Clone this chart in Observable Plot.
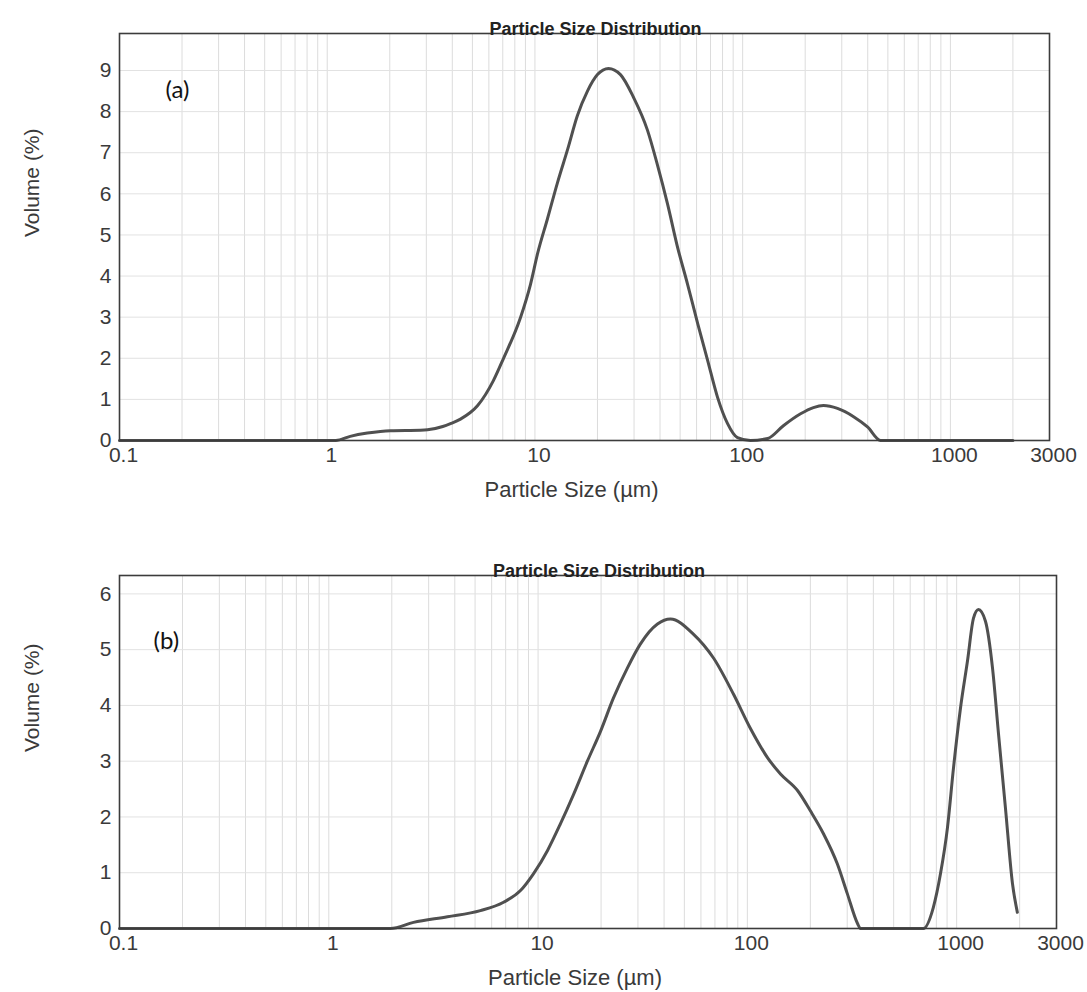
<!DOCTYPE html>
<html>
<head>
<meta charset="utf-8">
<script src="https://cdn.jsdelivr.net/npm/d3@7"></script>
<script src="https://cdn.jsdelivr.net/npm/@observablehq/plot@0.6"></script>
<style>
  html, body { margin: 0; padding: 0; background: #fff; }
  #chart svg { display: block; }
</style>
</head>
<body>
<div id="chart"></div>
<script>
// ---- Data ----
const chartTitle = "Particle Size Distribution";
const xLabel = "Particle Size (µm)";
const yLabel = "Volume (%)";
const xTicks = [0.1, 1, 10, 100, 1000, 3000];
const xGrid = [0.2,0.3,0.4,0.5,0.6,0.7,0.8,0.9,1,2,3,4,5,6,7,8,9,10,20,30,40,50,60,70,80,90,100,200,300,400,500,600,700,800,900,1000,2000];
const yTicksA = [0,1,2,3,4,5,6,7,8,9];
const yTicksB = [0,1,2,3,4,5,6];

// Panel (a)
const sizeA = [0.1, 1.1, 1.29, 1.56, 2.02, 2.81, 3.04, 3.6, 3.92, 4.38, 5.3, 6.3, 7.06, 8.53, 9.52, 10.3, 11.5, 12.8, 14.4, 16.0, 17.9, 20.0, 22.6, 25.8, 29.8, 34.8, 38.9, 43.5, 48.6, 54.3, 60.7, 67.8, 75.7, 84.6, 94.4, 109, 132, 157, 190, 219, 245, 286, 342, 399, 461, 2000];
const volA  = [0, 0, 0.1, 0.18, 0.24, 0.25, 0.26, 0.34, 0.41, 0.52, 0.85, 1.45, 2.0, 3.0, 3.8, 4.55, 5.4, 6.25, 7.1, 7.9, 8.5, 8.9, 9.05, 8.9, 8.35, 7.55, 6.7, 5.75, 4.7, 3.8, 2.85, 1.95, 1.05, 0.41, 0.07, 0.0, 0.05, 0.36, 0.65, 0.8, 0.85, 0.78, 0.58, 0.33, 0, 0];

// Panel (b)
const sizeB = [0.1, 1.97, 2.54, 3.69, 5.3, 6.84, 8.24, 9.5, 11.1, 12.8, 14.8, 17.2, 19.9, 22.9, 26.7, 30.8, 37.2, 42.9, 55.2, 68.9, 85.9, 103, 125, 144, 174, 200, 231, 269, 300, 336, 347, 694, 774, 837, 904, 966, 1043, 1127, 1203, 1271, 1373, 1484, 1585, 1711, 1849, 1950];
const volB  = [0, 0, 0.11, 0.21, 0.32, 0.47, 0.68, 0.98, 1.4, 1.88, 2.41, 3.0, 3.54, 4.13, 4.67, 5.1, 5.46, 5.55, 5.28, 4.85, 4.2, 3.6, 3.06, 2.77, 2.47, 2.11, 1.7, 1.16, 0.63, 0.09, 0, 0, 0.38, 0.98, 1.81, 2.88, 3.95, 4.8, 5.56, 5.72, 5.51, 4.67, 3.49, 2.16, 0.8, 0.29];

const font = "'Liberation Sans', Arial, sans-serif";

function panel({sizes, vols, yTicks, yMax, tag, height, mt, mb, mr, tagDx, tagDy}) {
  const data = sizes.map((s, i) => ({size: s, vol: vols[i]}));
  return Plot.plot({
    width: 1087,
    height,
    marginLeft: 119,
    marginRight: mr,
    marginTop: mt,
    marginBottom: mb,
    style: {fontFamily: font, color: "#3a3a3a", background: "#fff"},
    x: {type: "log", domain: [0.1, 3000], label: null, axis: null},
    y: {domain: [0, yMax], label: null},
    marks: [
      Plot.ruleX(xGrid, {stroke: "#dcdcdc", strokeWidth: 1}),
      Plot.ruleY(yTicks.filter(d => d > 0), {stroke: "#e2e2e2", strokeWidth: 1}),
      Plot.line(data, {x: "size", y: "vol", stroke: "#505050", strokeWidth: 3, curve: "monotone-x"}),
      Plot.frame({stroke: "#3c3c3c", strokeWidth: 1.6}),
      Plot.text(xTicks, {x: d => d, frameAnchor: "bottom", lineAnchor: "top", text: d => String(d), dy: 7, dx: 4, fontSize: 21, fill: "#3a3a3a"}),
      Plot.axisY(yTicks, {tickSize: 0, tickPadding: 8, fontSize: 21, tickFormat: d => String(d), label: null}),
      Plot.text([chartTitle], {frameAnchor: "top", text: d => d, lineAnchor: "bottom", dy: 1, dx: 11, fontSize: 18, fontWeight: "bold", fill: "#222"}),
      Plot.text([tag], {frameAnchor: "top-left", text: d => d, lineAnchor: "top", textAnchor: "start", dx: tagDx, dy: tagDy, fontSize: 24, fontFamily: "Lato, 'Open Sans', sans-serif", fill: "#111"}),
      Plot.text([yLabel], {frameAnchor: "left", text: d => d, rotate: -90, dx: -87, fontSize: 21, fill: "#3a3a3a"}),
      Plot.text([xLabel], {frameAnchor: "bottom", text: d => d, lineAnchor: "middle", dy: 49, dx: -13, fontSize: 22, fill: "#3a3a3a"})
    ]
  });
}

const chart = document.getElementById("chart");
chart.append(panel({sizes: sizeA, vols: volA, yTicks: yTicksA, yMax: 9.9, tag: "(a)", height: 520, mt: 33, mb: 80, mr: 38, tagDx: 46, tagDy: 47}));
chart.append(panel({sizes: sizeB, vols: volB, yTicks: yTicksB, yMax: 6.33, tag: "(b)", height: 472, mt: 55, mb: 64, mr: 31, tagDx: 34, tagDy: 56}));
</script>
</body>
</html>
